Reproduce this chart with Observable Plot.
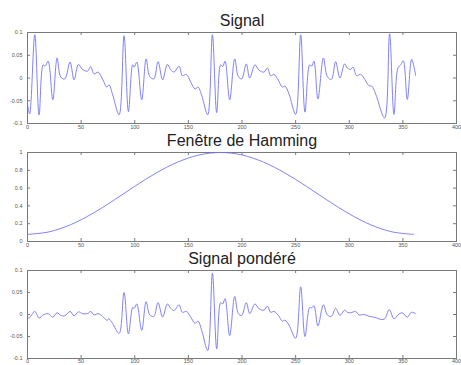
<!DOCTYPE html>
<html><head><meta charset="utf-8">
<script src="https://cdn.jsdelivr.net/npm/d3@7"></script>
<script src="https://cdn.jsdelivr.net/npm/@observablehq/plot@0.6"></script>
<style>body{margin:0;background:#fff} svg{display:block}</style>
</head><body><div id="c"></div>
<script>
const titles = ["Signal", "Fenêtre de Hamming", "Signal pondéré"];
const xTicks = [0, 50, 100, 150, 200, 250, 300, 350, 400];
const sigYTicks = [-0.1, -0.05, 0, 0.05, 0.1];
const hamYTicks = [0, 0.2, 0.4, 0.6, 0.8, 1];

const sigX = [0,2,6.8,10.8,14.6,16.4,19.2,23.6,27.6,31,34.8,39.7,43.4,47.5,51.2,55.9,59,62,65.8,69.9,73.9,76,79.2,85.4,
  90,94.1,98.1,99.5,101.9,106.5,110.6,114,117.8,121.7,126,130.4,133.6,136.6,141.3,144.4,148.2,152.2,156.2,159,162.4,168,
  172.4,176.4,180.1,182,184.2,188.5,193.2,196.6,199.7,204,207.2,212.1,215.9,220.5,223.7,226.7,229.8,233.9,237.6,240.1,243.8,250,
  254.7,258.7,263.1,265,267.1,270.8,275.9,279.6,283.4,287.3,291.3,295.7,298.2,301.3,303.5,306.9,310.6,313.7,318.4,321,324.6,333,
  337.6,341.7,345.4,348,350.4,354.1,358.2,361.9];
const sigY = [-0.057,-0.079,0.095,-0.081,0.029,0.026,0.037,-0.048,0.044,0.002,-0.002,0.035,-0.004,0.030,0.019,0.015,0.025,0.009,0.013,-0.002,-0.020,-0.015,-0.035,-0.081,
  0.093,-0.074,0.029,0.024,0.035,-0.048,0.042,0.003,-0.002,0.036,-0.004,0.030,0.018,0.013,0.026,0.005,0.008,-0.009,-0.024,-0.020,-0.038,-0.081,
  0.095,-0.076,0.029,0.025,0.037,-0.048,0.042,0.003,-0.002,0.031,0.000,0.029,0.017,0.013,0.022,0.005,0.008,-0.005,-0.020,-0.018,-0.035,-0.080,
  0.095,-0.075,0.029,0.026,0.037,-0.046,0.044,0.003,-0.003,0.036,0.000,0.031,0.022,0.019,0.024,0.005,0.008,0.000,-0.017,-0.018,-0.035,-0.088,
  0.097,-0.080,0.022,0.029,0.038,-0.047,0.041,0.006];

const hamX = [0,20,40,60,80,100,120,140,160,180,200,220,240,260,280,300,320,340,360];
const hamY = [0.08,0.108,0.188,0.31,0.46,0.62,0.77,0.892,0.972,1.0,0.972,0.892,0.77,0.62,0.46,0.31,0.188,0.108,0.08];

const wX = [0,1.5,6.8,10.8,14.6,19.2,23.6,27.6,31,34.8,39.7,43.4,47.5,51.2,55.9,59,62,65.8,69.9,73.9,76,79.2,85.4,
  90,94.1,98.1,99.5,101.9,106.5,110.6,114,117.8,121.7,126,130.4,133.6,136.6,141.3,144.4,148.2,152.2,156.2,159,162.4,168,
  172.4,176.4,180.1,182,184.2,188.5,193.2,196.6,199.7,204,207.2,212.1,215.9,220.5,223.7,226.7,229.8,233.9,237.6,240.1,243.8,250,
  254.7,258.7,263.1,265,267.1,270.8,275.9,279.6,283.4,287.3,291.3,295.7,298.2,301.3,306,309,313.7,318.4,323,332.4,
  337.3,341.7,345.4,349.4,354.1,357.9,361.9];
const wY = [-0.006,-0.008,0.007,-0.008,-0.001,0.002,-0.006,0.004,-0.002,-0.003,0.007,-0.003,0.006,0.002,0.002,0.007,-0.001,0.002,-0.004,-0.013,-0.010,-0.020,-0.043,
  0.050,-0.044,0.016,0.014,0.024,-0.036,0.029,-0.001,-0.004,0.027,-0.006,0.024,0.014,0.009,0.022,0.005,0.007,-0.006,-0.020,-0.015,-0.036,-0.082,
  0.094,-0.078,0.027,0.024,0.036,-0.048,0.041,0.002,-0.002,0.027,0.002,0.024,0.013,0.010,0.019,0.005,0.007,-0.002,-0.015,-0.013,-0.024,-0.054,
  0.063,-0.050,0.016,0.015,0.020,-0.026,0.022,-0.001,-0.004,0.014,-0.002,0.010,0.005,0.004,0.007,-0.001,0.000,-0.004,-0.006,-0.011,
  0.011,-0.010,-0.001,0.004,-0.006,0.005,0.002];

function panel({title, xs, ys, yDomain, yTicks, height, mt, mb, xPad}) {
  const W = 461, ml = 27, mr = 5;
  const ph = height - mt - mb, pw = W - ml - mr;
  const data = xs.map((x, i) => ({x, y: ys[i]}));
  const axisColor = "#7a7a7a";
  return Plot.plot({
    width: W, height, marginLeft: ml, marginRight: mr, marginTop: mt, marginBottom: mb,
    style: {fontFamily: "'Liberation Sans', Arial, sans-serif", background: "#fff", overflow: "visible"},
    x: {domain: [0, 400]},
    y: {domain: yDomain},
    marks: [
      Plot.frame({stroke: axisColor}),
      Plot.tickX(xTicks, {x: d => d, stroke: axisColor, insetBottom: ph - 3}),
      Plot.tickX(xTicks, {x: d => d, stroke: axisColor, insetTop: ph - 3}),
      Plot.tickY(yTicks, {y: d => d, stroke: axisColor, insetRight: pw - 3}),
      Plot.tickY(yTicks, {y: d => d, stroke: axisColor, insetLeft: pw - 3}),
      Plot.axisX(xTicks, {tickSize: 0, tickPadding: xPad, fontSize: 5.5, fill: "#555", tickFormat: d => String(d), label: null}),
      Plot.axisY(yTicks, {tickSize: 0, tickPadding: 5, fontSize: 5.5, fill: "#555", tickFormat: d => String(d), label: null}),
      Plot.line(data, {x: "x", y: "y", stroke: "#7474f7", strokeWidth: 0.9, curve: "catmull-rom"}),
      Plot.text([title], {text: d => d, frameAnchor: "top", dy: -7, lineAnchor: "bottom", fontSize: 16, fill: "#222"})
    ]
  });
}

const c = document.getElementById("c");
c.append(panel({title: titles[0], xs: sigX, ys: sigY, yDomain: [-0.1, 0.1], yTicks: sigYTicks, height: 130, mt: 32, mb: 7, xPad: 2}));
c.append(panel({title: titles[1], xs: hamX, ys: hamY, yDomain: [0, 1], yTicks: hamYTicks, height: 119, mt: 22, mb: 8, xPad: 2}));
c.append(panel({title: titles[2], xs: wX, ys: wY, yDomain: [-0.1, 0.1], yTicks: sigYTicks, height: 116, mt: 21, mb: 7, xPad: 1}));
</script></body></html>
